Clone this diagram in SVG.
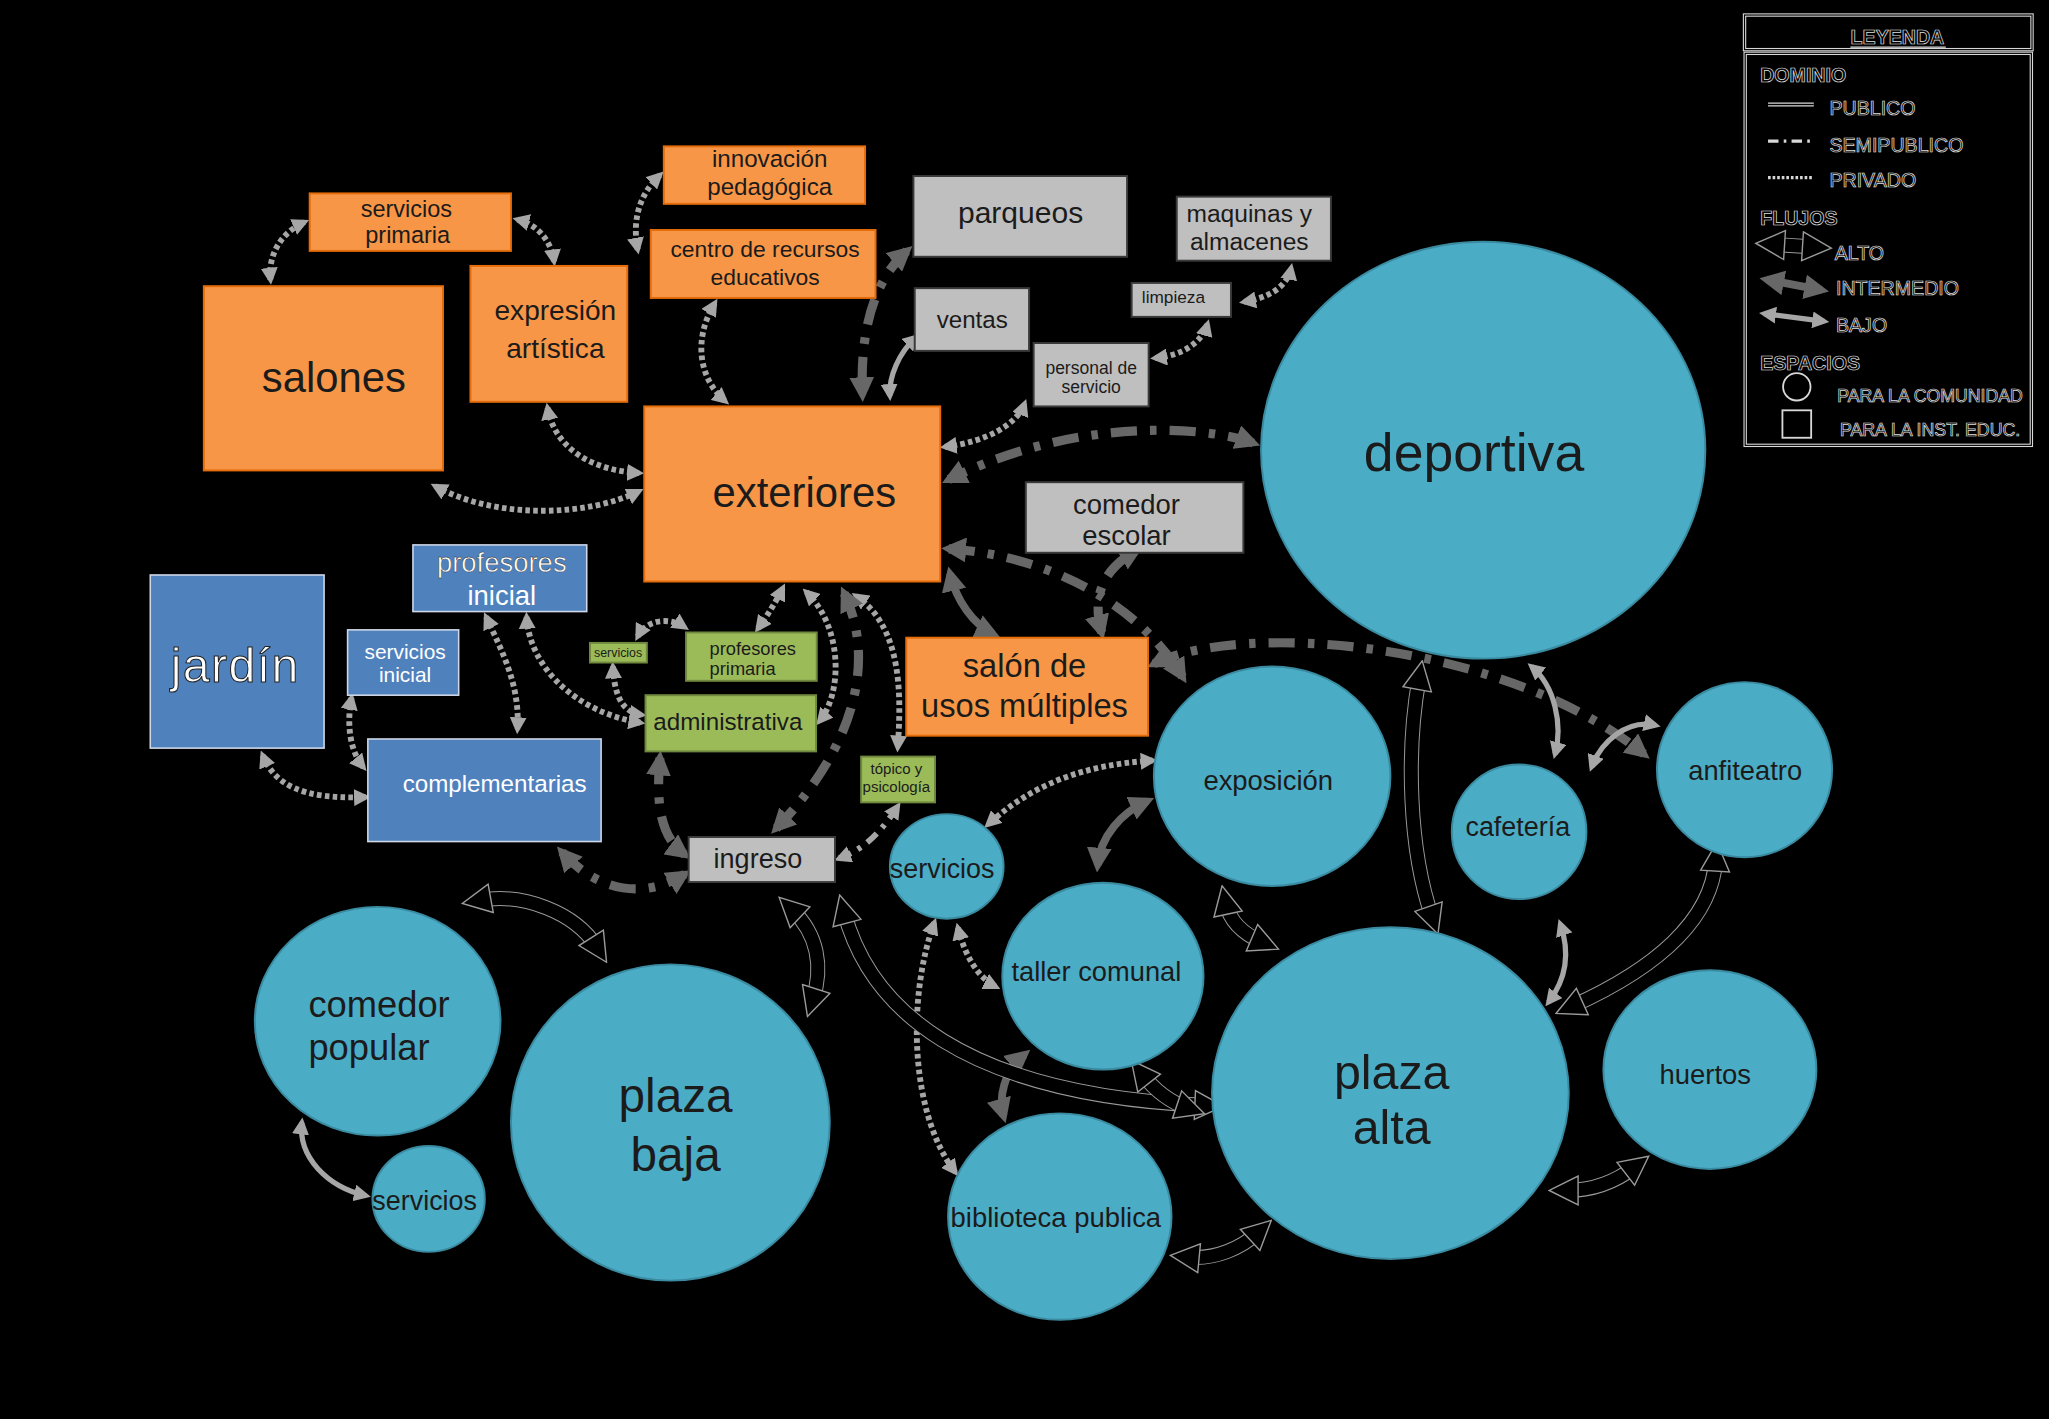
<svg xmlns="http://www.w3.org/2000/svg" width="2049" height="1419" viewBox="0 0 2049 1419">
<style>
.t{font-family:"Liberation Sans",Arial,sans-serif;fill:#1b1b1b;text-anchor:middle}
.w{fill:#ffffff}
.or{fill:#F79646;stroke:#E46C0A;stroke-width:1.5}
.gr{fill:#BFBFBF;stroke:#3a3a3a;stroke-width:1.5}
.bl{fill:#4F81BD;stroke:#d0d8e8;stroke-width:1.2}
.gn{fill:#9BBB59;stroke:#71893F;stroke-width:1.5}
.ci{fill:#4BACC6;stroke:#3a8aa0;stroke-width:1.5}
.pv{fill:none;stroke:#A6A6A6;stroke-width:4.5;stroke-dasharray:3.5 2.5;marker-start:url(#hL);marker-end:url(#hL)}
.spl{fill:none;stroke:#A6A6A6;stroke-width:4.5;stroke-dasharray:10 6 3 6;marker-start:url(#hL);marker-end:url(#hL)}
.sp{fill:none;stroke:#676767;stroke-width:7;stroke-dasharray:20 10 5 10;marker-start:url(#hD);marker-end:url(#hD)}
.im{fill:none;stroke:#676767;stroke-width:6;marker-start:url(#hD);marker-end:url(#hD)}
.lo{fill:none;stroke:#A6A6A6;stroke-width:4;marker-start:url(#hL);marker-end:url(#hL)}
.ho{fill:none;stroke:#9a9a9a;stroke-width:11.5}
.hi{fill:none;stroke:#000;stroke-width:10;marker-start:url(#hB);marker-end:url(#hB)}
.lg{font-family:"Liberation Sans",Arial,sans-serif;fill:#000;stroke:#e0e0e0;stroke-width:0.55}
.lgb{font-weight:bold}
</style>
<defs>
<marker id="hL" viewBox="0 0 10 10" refX="7" refY="5" markerUnits="userSpaceOnUse" markerWidth="13" markerHeight="13" orient="auto-start-reverse"><path d="M0,0 L10,5 L0,10 z" fill="#A6A6A6"/></marker>
<marker id="hD" viewBox="0 0 10 10" refX="7" refY="5" markerUnits="userSpaceOnUse" markerWidth="19" markerHeight="19" orient="auto-start-reverse"><path d="M0,0 L10,5 L0,10 z" fill="#676767"/></marker>
<marker id="hB" viewBox="0 0 10 10" refX="4" refY="5" markerUnits="userSpaceOnUse" markerWidth="24" markerHeight="24" orient="auto-start-reverse"><path d="M0.4,0.4 L9.6,5 L0.4,9.6 z" fill="#000" stroke="#9a9a9a" stroke-width="0.45"/></marker>
</defs>
<rect x="0" y="0" width="2049" height="1419" fill="#000"/>
<g transform="scale(1.30676)">

<g id="connectors">
<path class="pv" d="M207,214 C205,195 215,178 233,170"/>
<path class="pv" d="M396,168 C412,172 422,185 424,200"/>
<path class="pv" d="M505,134 C488,150 484,170 488,191"/>
<path class="pv" d="M547,232 C530,260 535,290 555,307"/>
<path class="pv" d="M419,312 C425,345 455,360 489,362"/>
<path class="pv" d="M333,372 C380,398 450,395 489,376"/>
<path class="pv" d="M723,342 C755,338 778,325 784,309"/>
<path class="pv" d="M884,274 C905,272 920,262 924,248"/>
<path class="pv" d="M952,231 C970,228 985,220 988,205"/>
<path class="pv" d="M372,472 C385,500 398,525 396,558"/>
<path class="pv" d="M403,472 C405,510 440,545 490,553"/>
<path class="pv" d="M469,510 C470,530 475,545 491,547"/>
<path class="pv" d="M488,487 C495,474 512,472 524,480"/>
<path class="pv" d="M580,481 C588,470 594,460 599,450"/>
<path class="pv" d="M617,453 C645,480 645,530 627,552"/>
<path class="pv" d="M655,456 C690,480 690,530 687,572"/>
<path class="pv" d="M882,582 C830,585 790,600 756,631"/>
<path class="pv" d="M733,710 C738,730 748,748 762,755"/>
<path class="pv" d="M715,706 C695,760 695,850 731,897"/>
<path class="pv" d="M201,578 C210,600 230,612 280,610"/>
<path class="pv" d="M269,534 C265,555 268,575 278,587"/>
<path class="spl" d="M642,657 C660,650 672,640 687,617"/>
<path class="sp" d="M959,339 C920,325 820,320 726,367"/>
<path class="sp" d="M694,192 C668,215 658,255 660,302"/>
<path class="sp" d="M726,420 C800,425 870,460 905,518"/>
<path class="sp" d="M843,484 C835,455 845,435 870,421"/>
<path class="sp" d="M883,508 C950,475 1150,490 1258,577"/>
<path class="sp" d="M646,454 C668,500 660,565 594,634"/>
<path class="sp" d="M430,652 C455,680 490,690 524,669"/>
<path class="sp" d="M505,580 C502,615 505,640 524,654"/>
<path class="im" d="M727,439 C732,460 745,478 760,485"/>
<path class="im" d="M878,613 C858,622 842,640 840,662"/>
<path class="im" d="M784,807 C768,820 764,840 768,854"/>
<path class="lo" d="M701,258 C688,270 680,288 681,303"/>
<path class="lo" d="M231,859 C228,885 250,908 280,915"/>
<path class="lo" d="M1172,510 C1190,525 1196,555 1190,577"/>
<path class="lo" d="M1267,555 C1245,550 1225,568 1218,587"/>
<path class="lo" d="M1194,707 C1202,730 1198,750 1185,767"/>
<path class="ho" d="M367,689 C400,683 440,698 457,725"/>
<path class="hi" d="M367,689 C400,683 440,698 457,725"/>
<path class="ho" d="M606,696 C626,715 630,740 622,765"/>
<path class="hi" d="M606,696 C626,715 630,740 622,765"/>
<path class="ho" d="M646,698 C665,770 735,838 923,846"/>
<path class="hi" d="M646,698 C665,770 735,838 923,846"/>
<path class="ho" d="M874,822 C885,836 897,844 909,848"/>
<path class="hi" d="M874,822 C885,836 897,844 909,848"/>
<path class="ho" d="M938,691 C941,705 952,715 966,721"/>
<path class="hi" d="M938,691 C941,705 952,715 966,721"/>
<path class="ho" d="M1096,702 C1078,650 1076,575 1086,519"/>
<path class="hi" d="M1096,702 C1078,650 1076,575 1086,519"/>
<path class="ho" d="M1203,770 C1265,742 1310,705 1313,658"/>
<path class="hi" d="M1203,770 C1265,742 1310,705 1313,658"/>
<path class="ho" d="M1199,911 C1220,911 1238,903 1251,893"/>
<path class="hi" d="M1199,911 C1220,911 1238,903 1251,893"/>
<path class="ho" d="M909,962 C930,964 950,955 963,943"/>
<path class="hi" d="M909,962 C930,964 950,955 963,943"/>
</g>

<g id="servicios-primaria"><rect class="or" x="237" y="148" width="154" height="44"/><text class="t" x="311" y="166" font-size="18">servicios</text><text class="t" x="312" y="186" font-size="18">primaria</text></g>
<g id="innovacion"><rect class="or" x="508" y="112" width="154" height="44"/><text class="t" x="589" y="128" font-size="18.5">innovación</text><text class="t" x="589" y="149" font-size="18.5">pedagógica</text></g>
<g id="centro-recursos"><rect class="or" x="498" y="176" width="172" height="52"/><text class="t" x="585.5" y="197" font-size="17.5">centro de recursos</text><text class="t" x="585.5" y="218" font-size="17.5">educativos</text></g>
<g id="salones"><rect class="or" x="156" y="219" width="183" height="141"/><text class="t" x="255.5" y="300" font-size="32">salones</text></g>
<g id="expresion"><rect class="or" x="360" y="203.5" width="120" height="104"/><text class="t" x="425" y="245" font-size="21.5">expresión</text><text class="t" x="425" y="274" font-size="21.5">artística</text></g>
<g id="exteriores"><rect class="or" x="493" y="311" width="226.5" height="134"/><text class="t" x="615.5" y="388" font-size="32">exteriores</text></g>
<g id="salon-usos"><rect class="or" x="693.5" y="488" width="185" height="75"/><text class="t" x="784" y="518" font-size="25">salón de</text><text class="t" x="784" y="549" font-size="25">usos múltiples</text></g>

<g id="parqueos"><rect class="gr" x="699" y="134.7" width="163.5" height="61.8"/><text class="t" x="781" y="171" font-size="23">parqueos</text></g>
<g id="maquinas"><rect class="gr" x="900.5" y="150.5" width="118" height="49"/><text class="t" x="956" y="170" font-size="18.8">maquinas y</text><text class="t" x="956" y="191" font-size="18.8">almacenes</text></g>
<g id="ventas"><rect class="gr" x="700" y="220.5" width="87.5" height="48"/><text class="t" x="744" y="251" font-size="18.5">ventas</text></g>
<g id="limpieza"><rect class="gr" x="866" y="216.5" width="76" height="26"/><text class="t" x="898" y="232" font-size="13.2">limpieza</text></g>
<g id="personal"><rect class="gr" x="791" y="262.5" width="88" height="48.5"/><text class="t" x="835" y="286" font-size="13.4">personal de</text><text class="t" x="835" y="301" font-size="13.4">servicio</text></g>
<g id="comedor-escolar"><rect class="gr" x="785" y="369" width="166.5" height="54"/><text class="t" x="862" y="393" font-size="21">comedor</text><text class="t" x="862" y="417" font-size="21">escolar</text></g>
<g id="ingreso"><rect class="gr" x="527" y="640.5" width="112" height="34.5"/><text class="t" x="580" y="664" font-size="20.7">ingreso</text></g>

<g id="profesores-inicial"><rect class="bl" x="316" y="417" width="133" height="51"/><text class="t w" x="384" y="438" font-size="21" stroke="#222" stroke-width="0.3">profesores</text><text class="t w" x="384" y="463" font-size="21">inicial</text></g>
<g id="jardin"><rect class="bl" x="115" y="440" width="133" height="132.5"/><text class="t w" x="180" y="522" font-size="37" stroke="#222" stroke-width="0.8" letter-spacing="1">jardín</text></g>
<g id="servicios-inicial"><rect class="bl" x="266" y="482" width="85" height="50"/><text class="t w" x="310" y="504" font-size="16">servicios</text><text class="t w" x="310" y="522" font-size="16">inicial</text></g>
<g id="complementarias"><rect class="bl" x="281.5" y="565.5" width="178.5" height="78.5"/><text class="t w" x="378.5" y="606" font-size="18.5">complementarias</text></g>

<g id="servicios-admin"><rect class="gn" x="451.5" y="492" width="43.5" height="15"/><text class="t" x="473" y="502.5" font-size="9.5">servicios</text></g>
<g id="profesores-primaria"><rect class="gn" x="525" y="484" width="100" height="37"/><text class="t" x="543" y="501" font-size="14" style="text-anchor:start">profesores</text><text class="t" x="543" y="516.5" font-size="14" style="text-anchor:start">primaria</text></g>
<g id="administrativa"><rect class="gn" x="494" y="532" width="130.5" height="43"/><text class="t" x="557" y="558.6" font-size="18.5">administrativa</text></g>
<g id="topico"><rect class="gn" x="659" y="579" width="56.5" height="35"/><text class="t" x="686" y="592" font-size="11.5">tópico y</text><text class="t" x="686" y="606" font-size="11.5">psicología</text></g>

<g id="deportiva"><ellipse class="ci" cx="1135" cy="344.5" rx="170" ry="159.5"/><text class="t" x="1128" y="360.5" font-size="41">deportiva</text></g>
<g id="exposicion"><ellipse class="ci" cx="973.5" cy="594" rx="90.5" ry="84"/><text class="t" x="970.5" y="604.5" font-size="21">exposición</text></g>
<g id="cafeteria"><ellipse class="ci" cx="1162.5" cy="636.5" rx="51.5" ry="51.5"/><text class="t" x="1161.5" y="640" font-size="20.6">cafetería</text></g>
<g id="anfiteatro"><ellipse class="ci" cx="1335" cy="589" rx="67" ry="67"/><text class="t" x="1335.5" y="597" font-size="20.9">anfiteatro</text></g>
<g id="servicios-com"><ellipse class="ci" cx="724.5" cy="663" rx="43.5" ry="40"/><text class="t" x="721" y="672" font-size="20.6">servicios</text></g>
<g id="taller"><ellipse class="ci" cx="844" cy="747" rx="77" ry="71.5"/><text class="t" x="839" y="751" font-size="20.9">taller comunal</text></g>
<g id="plaza-alta"><ellipse class="ci" cx="1064" cy="836.5" rx="136.5" ry="127"/><text class="t" x="1065" y="833" font-size="37">plaza</text><text class="t" x="1065" y="875.5" font-size="37">alta</text></g>
<g id="huertos"><ellipse class="ci" cx="1308.5" cy="818.5" rx="81.5" ry="76"/><text class="t" x="1305" y="829.5" font-size="21">huertos</text></g>
<g id="biblioteca"><ellipse class="ci" cx="811" cy="931" rx="85.5" ry="79"/><text class="t" x="808" y="939" font-size="21">biblioteca publica</text></g>
<g id="comedor-popular"><ellipse class="ci" cx="289" cy="781.5" rx="94" ry="87.5"/><text class="t" x="236" y="778" font-size="27.8" style="text-anchor:start">comedor</text><text class="t" x="236" y="811" font-size="27.8" style="text-anchor:start">popular</text></g>
<g id="servicios-pop"><ellipse class="ci" cx="328" cy="917.5" rx="43" ry="40.5"/><text class="t" x="325" y="926" font-size="20.6">servicios</text></g>
<g id="plaza-baja"><ellipse class="ci" cx="513" cy="859" rx="122" ry="121"/><text class="t" x="517" y="851" font-size="36.5">plaza</text><text class="t" x="517" y="896" font-size="36.5">baja</text></g>

<g id="leyenda">
<rect x="1335" y="11.5" width="220" height="26.5" fill="none" stroke="#d8d8d8" stroke-width="2.6"/>
<rect x="1335" y="11.5" width="220" height="26.5" fill="none" stroke="#000" stroke-width="0.9"/>
<rect x="1335.5" y="40.8" width="219" height="300" fill="none" stroke="#d8d8d8" stroke-width="2.6"/>
<rect x="1335.5" y="40.8" width="219" height="300" fill="none" stroke="#000" stroke-width="0.9"/>
<text class="lg lgb" x="1452" y="34" font-size="15" text-anchor="middle">LEYENDA</text>
<line x1="1416" y1="36" x2="1489" y2="36" stroke="#e0e0e0" stroke-width="1"/>
<text class="lg lgb" x="1347" y="62.5" font-size="15">DOMINIO</text>
<line x1="1353" y1="80" x2="1388" y2="80" stroke="#d8d8d8" stroke-width="3"/>
<line x1="1353" y1="80" x2="1388" y2="80" stroke="#000" stroke-width="1.2"/>
<text class="lg" x="1400" y="88" font-size="15">PUBLICO</text>
<line x1="1353" y1="108" x2="1388" y2="108" stroke="#d8d8d8" stroke-width="2.5" stroke-dasharray="8 4 2 4"/>
<text class="lg" x="1400" y="116" font-size="15">SEMIPUBLICO</text>
<line x1="1353" y1="136" x2="1388" y2="136" stroke="#d8d8d8" stroke-width="2.5" stroke-dasharray="2 1.5"/>
<text class="lg" x="1400" y="143" font-size="15">PRIVADO</text>
<text class="lg lgb" x="1347" y="172" font-size="15">FLUJOS</text>
<path class="ho" d="M1357,187 L1388,189"/>
<path class="hi" d="M1357,187 L1388,189"/>
<text class="lg" x="1404" y="199" font-size="15">ALTO</text>
<path class="im" d="M1352,214 L1394,222"/>
<text class="lg" x="1405" y="226" font-size="15">INTERMEDIO</text>
<path class="lo" d="M1350,240 L1396,246"/>
<text class="lg" x="1405" y="254" font-size="15">BAJO</text>
<text class="lg lgb" x="1347" y="283" font-size="15">ESPACIOS</text>
<circle cx="1375" cy="296" r="10.5" fill="none" stroke="#d8d8d8" stroke-width="1.4"/>
<text class="lg" x="1406" y="308" font-size="14" textLength="142" lengthAdjust="spacingAndGlyphs">PARA LA COMUNIDAD</text>
<rect x="1364" y="314" width="22" height="21" fill="none" stroke="#d8d8d8" stroke-width="1.4"/>
<text class="lg" x="1408" y="334" font-size="14" textLength="138" lengthAdjust="spacingAndGlyphs">PARA LA INST. EDUC.</text>
</g>

</g>
</svg>
